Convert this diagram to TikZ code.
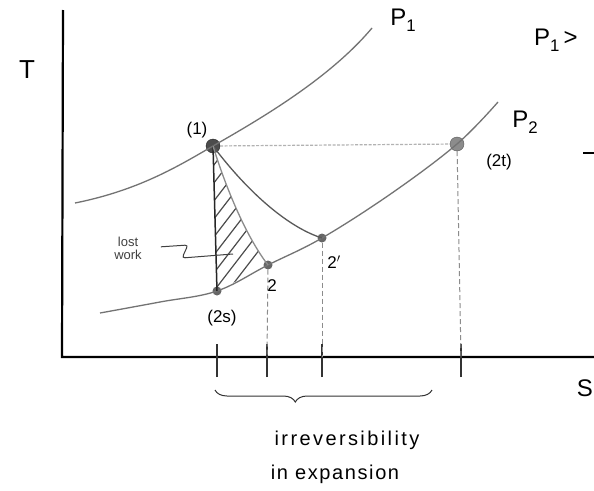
\documentclass[tikz,border=0pt]{standalone}
\usepackage{fontspec}
\setmainfont{Liberation Sans}
\usetikzlibrary{decorations.pathreplacing}
\newcommand{\mysub}[1]{\raisebox{-0.25em}{\scalebox{0.7}{#1}}}
\begin{document}
\begin{tikzpicture}[x=1pt,y=-1pt,
  axis/.style={line width=2.2pt, black},
  isobar/.style={line width=1.3pt, black!55},
  proc/.style={line width=1.3pt, black!65},
  guide/.style={line width=1pt, black!45, dash pattern=on 5pt off 3pt},
  tickmark/.style={line width=1.3pt, black!80},
  lbl/.style={font=\fontsize{17}{17}\selectfont, inner sep=1pt},
  biglbl/.style={font=\fontsize{24}{24}\selectfont, inner sep=1pt},
  bigpt/.style={circle, fill=black!70, draw=black!85, minimum size=14pt, inner sep=0pt},
  smallpt/.style={circle, fill=black!60, minimum size=9pt, inner sep=0pt}]
\useasboundingbox (0,0) rectangle (594,490);
\fill[white] (0,0) rectangle (594,490);

% axes
\coordinate (ytop) at (63,10);
\coordinate (orig) at (62,357);
\coordinate (xend) at (600,357);
\draw[axis] (ytop) -- (orig) -- (xend);
\node[biglbl, font=\fontsize{26}{26}\selectfont] (T) at (27,70) {T};
\node[biglbl, anchor=east] (S) at (594,388) {S};

% state points
\node[bigpt, rounded corners=2pt] (p1) at (213,146) {};
\node[bigpt, fill=black!45, draw=black!65] (p2t) at (457,144) {};
\node[smallpt] (p2p) at (322,238) {};
\node[smallpt] (p2) at (268,265) {};
\node[smallpt] (p2s) at (217,291) {};

% isobars
\coordinate (P1a) at (75,203);
\coordinate (P1b) at (372,28);
\coordinate (P2a) at (100,313);
\coordinate (P2b) at (498,102);
\draw[isobar] (P1a) .. controls (140,190) and (180,165) .. (p1.center)
  .. controls (262,118) and (330,78) .. (P1b);
\draw[isobar] plot[smooth, tension=0.6] coordinates {(P2a) (160,302) (p2s.center) (p2.center) (p2p.center) (392,193) (p2t.center) (P2b)};

% hatched lost work region
\begin{scope}
  \clip (p1.center) .. controls (225,185) and (245,235) .. (p2.center) -- (p2s.center) -- cycle;
  \foreach \k in {165,183,...,330} \draw[line width=1.2pt, black!70] (200,\k) -- ++(60,-78);
\end{scope}

% processes
\draw[black!30, line width=1.2pt, dash pattern=on 3pt off 1.5pt] (p1) -- (p2t);
\draw[line width=1.5pt, black!85] (p1.center) -- (p2s.center);
\draw[proc] (p1.center) .. controls (250,195) and (290,228) .. (p2p.center);
\draw[proc, black!45] (p1.center) .. controls (225,185) and (245,235) .. (p2.center);

% ticks and guides
\coordinate (t2s) at (217,357);
\coordinate (t2) at (267,357);
\coordinate (t2p) at (322,357);
\coordinate (t2t) at (461,357);
\foreach \t in {t2s,t2,t2p,t2t} \draw[tickmark] ([yshift=-20pt]\t) -- ([yshift=13pt]\t);
\draw[guide] (p2) -- (t2);
\draw[guide] (p2p) -- (t2p);
\draw[guide] (p2t) -- (t2t);

% labels
\node[lbl] (l1) at (197,130) {(1)};
\node[lbl] (l2t) at (499,162) {(2t)};
\node[lbl] (l2p) at (334,262) {2$'$};
\node[lbl] (l2) at (272,286) {2};
\node[lbl] (l2s) at (222,318) {(2s)};
\node[biglbl] (lP1) at (403,20) {P\mysub{1}};
\node[biglbl] (lP2) at (525,122) {P\mysub{2}};
\node[biglbl, anchor=west] (lP1gt) at (533,40) {P\mysub{1}\,>};
\draw[line width=1.5pt] (583,153) -- (600,153);

% lost work
\node[font=\fontsize{13}{13}\selectfont, align=center, inner sep=1pt, text=black!75] (lw) at (128,248) {lost\\work};
\coordinate (lwend) at (233,254);
\draw[line width=1pt, black!75, rounded corners=3pt, shorten <=18pt] (lw.east) -- (188,245) -- (182,258) -- (lwend);

% brace
\coordinate (ba) at (215,390);
\coordinate (bb) at (432,390);
\draw[decorate, decoration={brace, mirror, amplitude=12pt, aspect=0.37}, line width=1pt, black!80] (ba) -- (bb);
\node[font=\fontsize{20}{20}\selectfont\addfontfeatures{LetterSpace=12}, inner sep=1pt] (irr) at (347,440) {irreversibility};
\node[font=\fontsize{20}{20}\selectfont\addfontfeatures{LetterSpace=8}, inner sep=1pt] (exp) at (335,474) {in expansion};
\end{tikzpicture}
\end{document}
